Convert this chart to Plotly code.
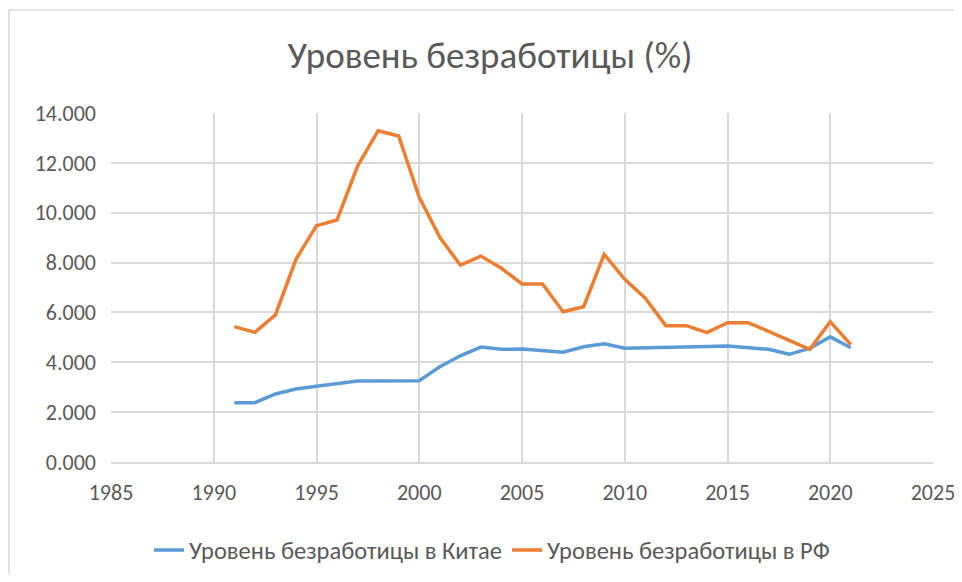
import plotly.graph_objects as go

years = list(range(1991, 2022))

china = [2.38, 2.38, 2.73, 2.93, 3.04, 3.16, 3.25, 3.25, 3.26, 3.26,
         3.82, 4.26, 4.61, 4.52, 4.53, 4.45, 4.40, 4.62, 4.74, 4.56,
         4.57, 4.60, 4.62, 4.63, 4.65, 4.58, 4.52, 4.32, 4.56, 5.02, 4.58]

russia = [5.43, 5.20, 5.90, 8.13, 9.48, 9.71, 11.87, 13.29, 13.08, 10.62,
          9.01, 7.90, 8.26, 7.77, 7.14, 7.14, 6.03, 6.23, 8.33, 7.33,
          6.57, 5.47, 5.47, 5.19, 5.59, 5.59, 5.24, 4.88, 4.52, 5.63, 4.71]

title_text = "Уровень безработицы (%)"
name_china = "Уровень безработицы в Китае"
name_russia = "Уровень безработицы в РФ"

FONT = "Carlito, Calibri, 'Noto Sans', sans-serif"
GREY = "#595959"
GRID = "#d9d9d9"

# страница добавляет отступ 8px - фигура чуть меньше окна
W, H = 954, 566
OFF = 8

fig = go.Figure()

fig.add_trace(go.Scatter(
    x=years, y=china, mode="lines", name=name_china,
    line=dict(color="#5B9BD5", width=3.5)
))
fig.add_trace(go.Scatter(
    x=years, y=russia, mode="lines", name=name_russia,
    line=dict(color="#ED7D31", width=3.5)
))

# область построения в координатах окна: x 111..933, y 113..462
pl, pt = 111 - OFF, 113 - OFF
pr, pb = W - (933 - OFF), H - (462 - OFF)
pw, ph = W - pl - pr, H - pt - pb

# рамка вокруг всей диаграммы (правая и нижняя стороны за краем)
fig.add_shape(
    type="rect", xref="paper", yref="paper",
    x0=(9 - OFF - pl) / pw, x1=(W + 300 - pl) / pw,
    y0=-(pb + 300) / ph, y1=(H - (10 - OFF) - pb) / ph,
    line=dict(color=GRID, width=1.5), layer="below"
)

fig.update_layout(
    width=W, height=H,
    margin=dict(l=pl, r=pr, t=pt, b=pb, autoexpand=False),
    paper_bgcolor="white", plot_bgcolor="white",
    font=dict(family=FONT, color=GREY, size=22),
    title=dict(text=title_text, x=(490 - OFF) / W, xanchor="center",
               y=1 - (55 - OFF) / H, yanchor="middle",
               font=dict(family=FONT, size=37, color=GREY)),
    showlegend=True,
    legend=dict(orientation="h", x=(492 - 111) / pw, xanchor="center",
                y=-(550 - 462) / ph, yanchor="middle",
                font=dict(family=FONT, size=24.5, color=GREY)),
    xaxis=dict(range=[1985, 2025], dtick=5, tick0=1985, showgrid=True, gridcolor=GRID,
               gridwidth=1.5, zeroline=False, showline=True, linecolor=GRID, linewidth=1.5,
               ticks="", tickfont=dict(size=22, color=GREY), ticklabelstandoff=10,
               automargin=False, fixedrange=True),
    yaxis=dict(range=[0, 14], dtick=2, tickformat=".3f", showgrid=True, gridcolor=GRID,
               gridwidth=1.5, zeroline=False, showline=False, ticks="",
               tickfont=dict(size=22, color=GREY), ticklabelstandoff=14,
               automargin=False, fixedrange=True),
)

fig.write_html("out.html")
